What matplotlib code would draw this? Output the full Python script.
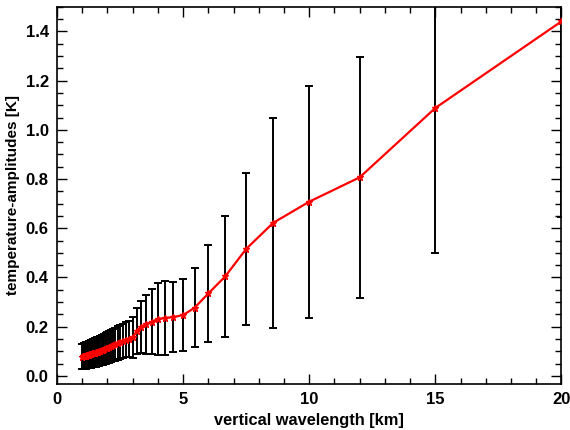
import numpy as np
import matplotlib
matplotlib.use('Agg')
import matplotlib.pyplot as plt
from matplotlib.ticker import MultipleLocator

plt.rcParams['font.family'] = ['Liberation Sans', 'DejaVu Sans']
plt.rcParams['font.weight'] = 'bold'

# vertical wavelength [km]
wavelength = [1.000, 1.017, 1.034, 1.053, 1.071, 1.091, 1.111, 1.132, 1.154, 1.176,
              1.200, 1.224, 1.250, 1.277, 1.304, 1.333, 1.364, 1.395, 1.429, 1.463,
              1.500, 1.538, 1.579, 1.622, 1.667, 1.714, 1.765, 1.818, 1.875, 1.935,
              2.000, 2.069, 2.143, 2.222, 2.308, 2.400, 2.500, 2.609, 2.727, 2.857,
              3.000, 3.158, 3.333, 3.529, 3.750, 4.000, 4.286, 4.615, 5.000, 5.455,
              6.000, 6.667, 7.500, 8.571, 10.000, 12.000, 15.000, 20.000]

# temperature amplitudes [K]
amplitude = [0.078, 0.079, 0.079, 0.080, 0.080, 0.081, 0.082, 0.082, 0.083, 0.084,
             0.085, 0.085, 0.086, 0.087, 0.088, 0.089, 0.090, 0.091, 0.093, 0.094,
             0.095, 0.096, 0.098, 0.099, 0.101, 0.103, 0.105, 0.107, 0.109, 0.112,
             0.115, 0.118, 0.121, 0.125, 0.129, 0.133, 0.137, 0.141, 0.146, 0.151,
             0.156, 0.182, 0.200, 0.210, 0.220, 0.231, 0.235, 0.239, 0.247, 0.277,
             0.335, 0.404, 0.516, 0.622, 0.708, 0.807, 1.089, 1.441]

# standard deviation [K]
spread = [0.052, 0.052, 0.052, 0.053, 0.053, 0.053, 0.053, 0.053, 0.054, 0.054,
          0.054, 0.054, 0.055, 0.055, 0.055, 0.056, 0.056, 0.056, 0.057, 0.057,
          0.057, 0.058, 0.058, 0.059, 0.059, 0.060, 0.060, 0.061, 0.062, 0.062,
          0.063, 0.064, 0.065, 0.066, 0.067, 0.068, 0.069, 0.070, 0.071, 0.073,
          0.082, 0.095, 0.105, 0.120, 0.133, 0.147, 0.151, 0.141, 0.145, 0.161,
          0.198, 0.246, 0.310, 0.427, 0.472, 0.490, 0.591, 0.795]

fig = plt.figure(figsize=(5.7, 4.3), dpi=100)
ax = fig.add_axes([0.1, 0.107, 0.885, 0.877])

ax.errorbar(wavelength, amplitude, yerr=spread, fmt='none', ecolor='black',
            elinewidth=1.4, capsize=3, capthick=1.4, zorder=2)
ax.plot(wavelength, amplitude, color='#ff0000', lw=1.6, marker='*',
        markersize=5, zorder=3)

ax.set_xlim(0, 20)
ax.set_ylim(-0.033, 1.5)
ax.xaxis.set_major_locator(MultipleLocator(5))
ax.xaxis.set_minor_locator(MultipleLocator(1))
ax.yaxis.set_major_locator(MultipleLocator(0.2))
ax.yaxis.set_minor_locator(MultipleLocator(0.05))
ax.yaxis.set_major_formatter(plt.FormatStrFormatter('%.1f'))

ax.tick_params(which='both', direction='in', top=True, right=True,
               labelsize=12, width=1, pad=6)
ax.tick_params(which='major', length=7)
ax.tick_params(which='minor', length=4)
for s in ax.spines.values():
    s.set_linewidth(1.2)

ax.set_xlabel('vertical wavelength [km]', fontsize=11.8, fontweight='bold', labelpad=4)
ax.set_ylabel('temperature-amplitudes [K]', fontsize=11, fontweight='bold', labelpad=4)

fig.savefig('out.png', dpi=100)
